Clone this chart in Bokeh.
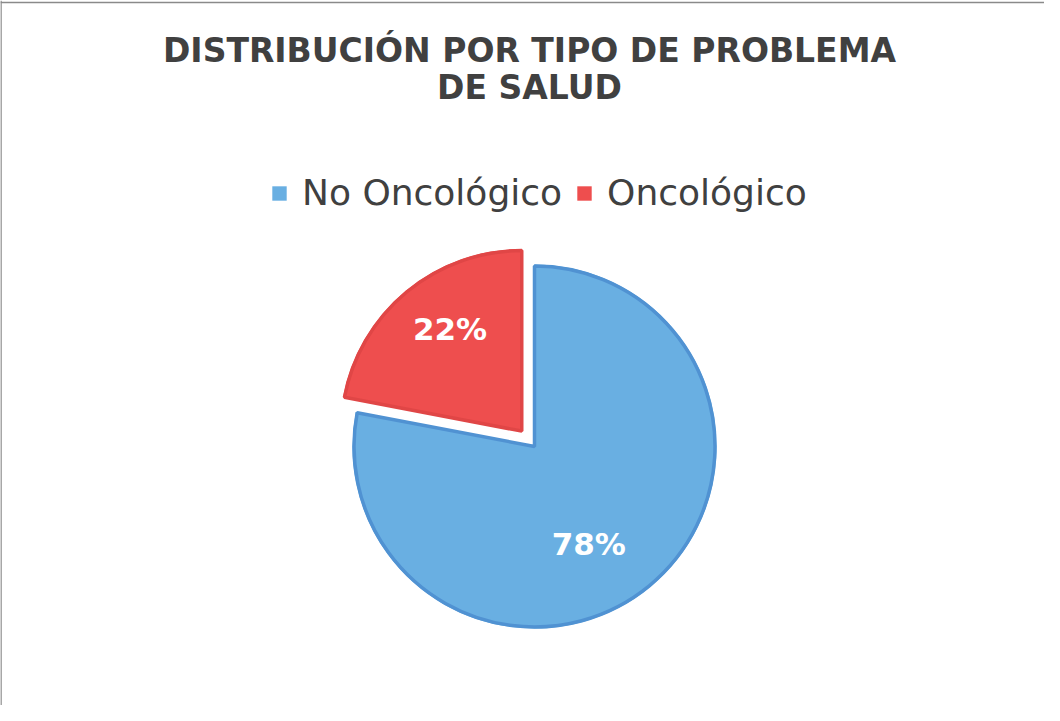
import math
from bokeh.plotting import figure
from bokeh.models import ColumnDataSource, Range1d, Legend, LegendItem, Span
from bokeh.core.properties import value
from bokeh.embed import file_html
from bokeh.resources import INLINE

# ---- data ----
categories = ["No Oncológico", "Oncológico"]
percentages = [78, 22]
title_lines = ["DISTRIBUCIÓN POR TIPO DE PROBLEMA", "DE SALUD"]

# ---- styles / layout ----
fill_colors = ["#69afe2", "#ee4e4e"]
line_colors = ["#5092d2", "#e04646"]
explode = [0, 20]
W, H = 1044, 705
cx, cy, R = 534, 259, 182
label_dir_deg = [299, 125]
label_dist = [112, 125]

p = figure(width=W, height=H, output_backend="svg", toolbar_location=None,
           x_range=Range1d(0, W), y_range=Range1d(0, H), min_border=0)
p.axis.visible = False
p.grid.visible = False
p.outline_line_color = None
p.background_fill_color = "white"
p.border_fill_color = "white"

total = sum(percentages)
shares = [v / total * 360 for v in percentages]
# Oncológico sits counter-clockwise from 12 o'clock, No Oncológico fills the rest
a_on_start = 90
a_on_end = 90 + shares[1]
angle_pairs = [(a_on_end, 450), (a_on_start, a_on_end)]

starts, ends, xs, ys, lx, ly, texts = [], [], [], [], [], [], []
for i, (a0, a1) in enumerate(angle_pairs):
    mid = math.radians((a0 + a1) / 2)
    ox = cx + explode[i] * math.cos(mid)
    oy = cy + explode[i] * math.sin(mid)
    starts.append(math.radians(a0))
    ends.append(math.radians(a1))
    xs.append(ox)
    ys.append(oy)
    d = math.radians(label_dir_deg[i])
    lx.append(ox + label_dist[i] * math.cos(d))
    ly.append(oy + label_dist[i] * math.sin(d))
    texts.append(f"{percentages[i]}%")

src = ColumnDataSource(dict(x=xs, y=ys, start=starts, end=ends, fill=fill_colors,
                            line=line_colors, cat=categories, lx=lx, ly=ly, txt=texts))

fill_r = p.wedge(x="x", y="y", radius=R, start_angle="start", end_angle="end",
                 fill_color="fill", line_color=None, source=src)
p.wedge(x="x", y="y", radius=R - 1.5, start_angle="start", end_angle="end",
        fill_color=None, line_color="line", line_width=3.5, source=src)

p.text(x="lx", y="ly", text="txt", source=src, text_color="white",
       text_font=value("DejaVu Sans"), text_font_style="bold", text_font_size="31px",
       text_align="center", text_baseline="middle")

# title
p.text(x=[529, 529], y=[655, 618], text=title_lines, text_color="#404040",
       text_font=value("DejaVu Sans"), text_font_style="bold", text_font_size="33px",
       text_align="center", text_baseline="alphabetic")

# legend
items = [LegendItem(label=categories[i], renderers=[fill_r], index=i) for i in range(2)]
legend = Legend(items=items, orientation="horizontal", location=(270, 492),
                glyph_width=18, glyph_height=18, label_standoff=14, spacing=13,
                padding=0, margin=0, border_line_color=None, background_fill_alpha=0,
                label_text_font="DejaVu Sans", label_text_font_size="36px",
                label_text_color="#404040", label_height=40)
p.add_layout(legend, "center")

# frame lines (top and left only)
p.add_layout(Span(location=H - 2, dimension="width", line_color="#8a8a8a", line_width=1.5))
p.add_layout(Span(location=0.5, dimension="height", line_color="#8a8a8a", line_width=1.5))

open("out.html", "w").write(file_html(p, INLINE))
